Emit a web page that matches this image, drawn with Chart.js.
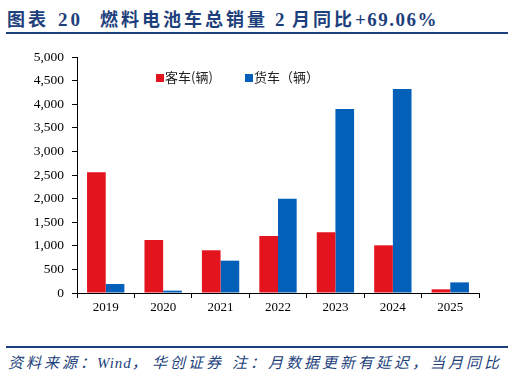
<!DOCTYPE html>
<html>
<head>
<meta charset="utf-8">
<script src="https://cdn.jsdelivr.net/npm/chart.js@4"></script>
<style>
  html, body { margin: 0; padding: 0; background: #fff; }
  body { width: 514px; height: 378px; position: relative; overflow: hidden; }
  .line span { display: inline-block; }
  #title {
    position: absolute; top: 5px; left: 7px;
    font: bold 18px "Liberation Serif", "Noto Sans CJK SC", serif;
    color: #1d3f7c; white-space: pre; letter-spacing: 3px;
  }
  .rule { position: absolute; left: 6px; width: 502px; height: 2px; background: #1d3f7c; }
  #foot {
    position: absolute; top: 351px; left: 8px;
    font: italic 15px "Liberation Serif", "Noto Sans CJK SC", serif;
    color: #1d3f7c; white-space: pre; letter-spacing: 3px;
  }
  #legend {
    position: absolute; top: 67px; left: 156px;
    font: 13px "Noto Sans CJK SC", serif; color: #222; white-space: pre;
  }
  #legend span.box { display: inline-block; width: 8px; height: 8px; margin-right: 1px; vertical-align: 0px; }
  #legend span.item { display: inline-block; }
  #wrap { position: absolute; left: 0; top: 40px; width: 514px; height: 290px; }
</style>
</head>
<body>
<div id="title" class="line"><span style="width:51px">图表</span><span style="width:42px;font-size:19px">20</span><span style="width:175px">燃料电池车总销量</span><span style="width:17px;font-size:19px">2</span><span>月同比</span><span style="letter-spacing:1.5px;font-size:19px">+69.06%</span></div>
<div class="rule" style="top:32px"></div>
<div id="wrap"><canvas id="chart"></canvas></div>
<div id="legend"><span class="item" style="width:89px"><span class="box" style="background:#e3141e"></span>客车(辆)</span><span class="item"><span class="box" style="background:#035fb8"></span>货车（辆）</span></div>
<div class="rule" style="top:346px"></div>
<div id="foot" class="line"><span style="width:89px">资料来源：</span><span style="width:55px; letter-spacing:1px">Wind，</span><span style="width:80px">华创证券</span><span>注：月数据更新有延迟，当月同比</span></div>
<script>
var years = ["2019", "2020", "2021", "2022", "2023", "2024", "2025"];
var busSales = [2560, 1125, 905, 1205, 1285, 1010, 78];
var truckSales = [190, 50, 685, 1998, 3900, 4320, 225];
var yTicks = [0, 500, 1000, 1500, 2000, 2500, 3000, 3500, 4000, 4500, 5000];

var red = "#e3141e"
  , blue = "#035fb8"
  , fonts = "'Liberation Serif', serif";

var ctx = document.getElementById("chart").getContext("2d");
new Chart(ctx, {
	type: "bar",
	data: {
		labels: years,
		datasets: [
			{ label: "客车(辆)", data: busSales, backgroundColor: red },
			{ label: "货车（辆）", data: truckSales, backgroundColor: blue }
		]
	},
	options: {
		responsive: true,
		maintainAspectRatio: false,
		animation: false,
		categoryPercentage: 0.65,
		barPercentage: 1,
		layout: { padding: { left: 0, right: 35, top: 17, bottom: 0 } },
		plugins: { legend: { display: false }, tooltip: { enabled: false } },
		scales: {
			x: {
				grid: { display: true, drawOnChartArea: false, drawTicks: true, tickLength: 5, color: "#000", offset: true },
				border: { color: "#000", width: 1 },
				ticks: { color: "#000", font: { family: fonts, size: 13 }, padding: 2 },
				afterFit: function(scale) { scale.height = 37; }
			},
			y: {
				min: 0, max: 5000,
				afterBuildTicks: function(scale) { scale.ticks = yTicks.map(function(v) { return { value: v }; }); },
				grid: { display: true, drawOnChartArea: false, drawTicks: true, tickLength: 5, color: "#000" },
				border: { color: "#000", width: 1 },
				ticks: {
					color: "#000", font: { family: fonts, size: 13.5 }, padding: 8,
					callback: function(v) { return v.toLocaleString("en-US"); }
				},
				afterFit: function(scale) { scale.width = 77; }
			}
		}
	}
});
</script>
</body>
</html>
